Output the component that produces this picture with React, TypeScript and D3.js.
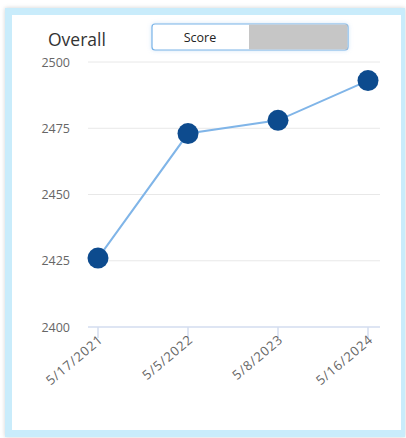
import React from "react";
import { scalePoint, scaleLinear, line } from "d3";

const dates = ["5/17/2021", "5/5/2022", "5/8/2023", "5/16/2024"];
const scores = [2426, 2473, 2478, 2493];
const yTicks = [2400, 2425, 2450, 2475, 2500];

const width = 406;
const height = 438;
const font = "'Segoe UI', 'Open Sans', 'Noto Sans', sans-serif";

const App = () => {
  const xScale = scalePoint<string>().domain(dates).range([98, 368]);
  const yScale = scaleLinear().domain([2400, 2500]).range([327, 62]);

  const path = line<number>()
    .x((_, i) => xScale(dates[i]) as number)
    .y((d) => yScale(d))(scores);

  return (
    <svg
      width={width}
      height={height}
      style={{ position: "absolute", left: 0, top: 0, background: "#fff" }}
    >
      <defs>
        <filter id="shadow" x="-5%" y="-5%" width="110%" height="110%">
          <feDropShadow dx="0" dy="0" stdDeviation="2" floodColor="#000" floodOpacity="0.18" />
        </filter>
        <filter id="glow" x="-10%" y="-40%" width="120%" height="180%">
          <feDropShadow dx="0" dy="0" stdDeviation="2" floodColor="#7ab4e8" floodOpacity="0.35" />
        </filter>
      </defs>
      {/* card frame */}
      <rect x={5} y={8} width={400} height={429} fill="#c9ecfb" filter="url(#shadow)" />
      <rect x={12} y={15} width={389} height={415} fill="#fff" />

      {/* title and toggle */}
      <text x={48} y={46} fontFamily={font} fontSize={17.5} fill="#333">
        Overall
      </text>
      <g filter="url(#glow)">
        <rect x={152} y={24} width={196} height={26} rx={3} fill="#fff" stroke="#7ab4e8" strokeWidth={1.2} />
      </g>
      <rect x={249} y={24.6} width={98.4} height={24.8} fill="#c6c6c6" />
      <text x={200} y={41.5} textAnchor="middle" fontFamily={font} fontSize={12.5} fill="#222">
        Score
      </text>

      {/* grid */}
      {yTicks.map((t) => (
        <g key={t}>
          <line
            x1={88}
            x2={380}
            y1={yScale(t)}
            y2={yScale(t)}
            stroke={t === 2400 ? "#d3dcef" : "#e8e8e8"}
            strokeWidth={t === 2400 ? 1.5 : 1}
          />
          <text
            x={70}
            y={yScale(t) + 4.5}
            textAnchor="end"
            fontFamily={font}
            fontSize={12.5}
            fill="#666"
          >
            {t}
          </text>
        </g>
      ))}

      {/* x axis */}
      {dates.map((d) => {
        const x = xScale(d) as number;
        return (
          <g key={d}>
            <line x1={x} x2={x} y1={327} y2={338} stroke="#d3dcef" strokeWidth={1.5} />
            <text
              transform={`translate(${x + 6},${341}) rotate(-40)`}
              textAnchor="end"
              fontFamily={font}
              fontSize={13}
              letterSpacing={0.9}
              fill="#666"
            >
              {d}
            </text>
          </g>
        );
      })}

      {/* series */}
      <path d={path ?? ""} fill="none" stroke="#80b5e8" strokeWidth={2} />
      {scores.map((s, i) => (
        <circle key={i} cx={xScale(dates[i]) as number} cy={yScale(s)} r={10.5} fill="#0d4b8e" />
      ))}
    </svg>
  );
};

export default App;
